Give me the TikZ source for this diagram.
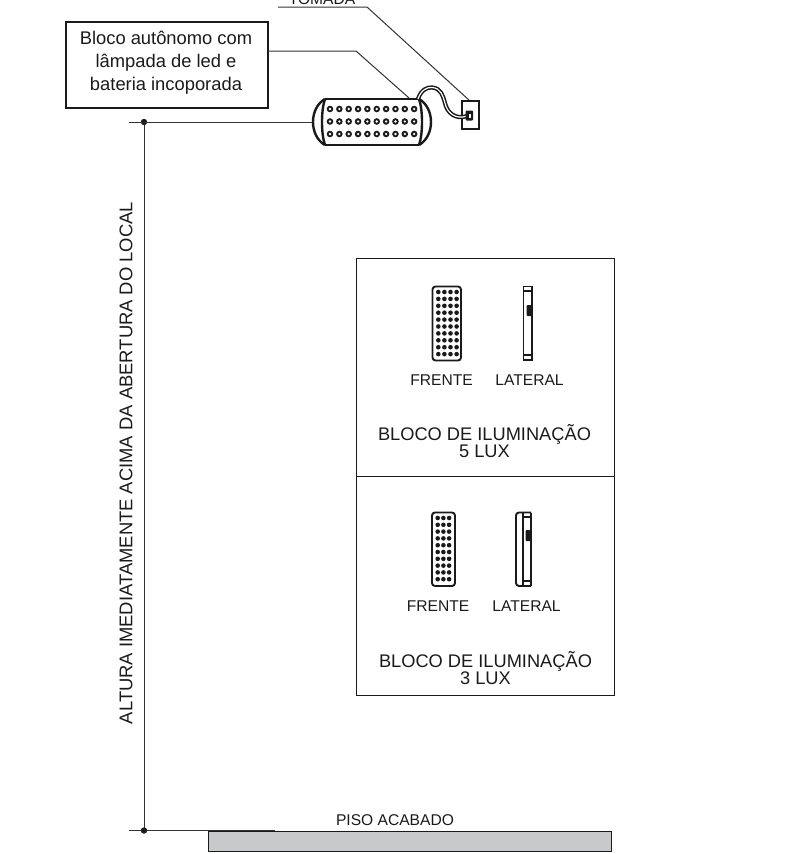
\documentclass[tikz,border=0pt]{standalone}
\usepackage{fontspec}
\setmainfont{Liberation Sans}
\definecolor{ink}{HTML}{1A1A1A}
\definecolor{leader}{HTML}{333333}
\definecolor{slabgray}{HTML}{C8C9CB}
\tikzset{
  thinline/.style={draw=leader,line width=1pt},
  medline/.style={draw=ink,line width=1.9pt},
  heavy/.style={draw=ink,line width=2.4pt},
  lbl/.style={inner sep=0pt,text=ink,font=\fontsize{15.6}{15.6}\selectfont},
  biglbl/.style={inner sep=0pt,text=ink,font=\fontsize{18.25}{17}\selectfont,align=center},
  blocklbl/.style={inner sep=0pt,text=ink,font=\fontsize{18.35}{23}\selectfont,align=center},
  vlbl/.style={inner sep=0pt,text=ink,font=\fontsize{18.4}{18.4}\selectfont,rotate=90},
}
\begin{document}
\begin{tikzpicture}[x=1pt,y=-1pt]
\useasboundingbox (0,0) rectangle (795,854);
% floor
\node[draw=ink,line width=1.3pt,fill=slabgray,minimum width=403pt,minimum height=20pt,inner sep=0pt,anchor=north west] (slab) at (208,831) {};
\node[lbl] (piso) at (395,820) {PISO ACABADO};
% dimension
\coordinate (topL) at (129,122);
\coordinate (topD) at (144,122);
\coordinate (botL) at (129,830.5);
\coordinate (botD) at (144,830.5);
\coordinate (botR) at (275,830.5);
\draw[thinline] (topD) -- (botD);
\draw[thinline] (botL) -- (botR);
\fill[ink] (topD) circle (3.2pt);
\fill[ink] (botD) circle (3.2pt);
\node[vlbl] (vert) at (126,463) {ALTURA IMEDIATAMENTE ACIMA DA ABERTURA DO LOCAL};
% callout
\node[draw=ink,line width=2.4pt,minimum width=202pt,minimum height=86pt,inner sep=0pt,anchor=north west] (box) at (65,21) {};
\node[blocklbl] (boxt) at (166,63) {Bloco autônomo com\\lâmpada de led e\\bateria incoporada};
% tomada
\node[lbl] (tom) at (322,-1) {TOMADA};
\coordinate (tomA) at (278,7);
\coordinate (tomB) at (367,7);
\coordinate (tomC) at (470,101);
\draw[thinline] (tomA) -- (tomB) -- (tomC);
\coordinate (bA) at (268,51);
\coordinate (bB) at (356,51);
\coordinate (bC) at (409,98);
\draw[thinline] (bA) -- (bB) -- (bC);
% lamp
\coordinate (lampL) at (313,122);
\draw[thinline] (topL) -- (lampL);
\draw[heavy] (325,99) -- (419,99);
\draw[heavy] (325,145) -- (419,145);
\draw[heavy] (325,99) .. controls (309,108) and (309,136) .. (325,145);
\draw[heavy] (419,99) .. controls (435,108) and (435,136) .. (419,145);
\draw[heavy] (325,99) .. controls (321,110) and (321,134) .. (325,145);
\draw[heavy] (419,99) .. controls (423,110) and (423,134) .. (419,145);
\foreach \r in {109,121.5,134}{
  \foreach \i in {0,...,9}{
    \fill[ink] ({330+\i*9.35},\r) circle (3.3pt);
    \fill[white] ({330+\i*9.35},\r) circle (1.3pt);
  }
}
% socket
\draw[medline,fill=white] (462,101) rectangle (479,129);
\draw[ink,line width=4.2pt,line join=round] (418,99) .. controls (421,90) and (427,87) .. (432,87.5) .. controls (441,88) and (443,96) .. (445,103) .. controls (447,113) and (456,120) .. (467,116);
\draw[white,line width=1.2pt] (418,99) .. controls (421,90) and (427,87) .. (432,87.5) .. controls (441,88) and (443,96) .. (445,103) .. controls (447,113) and (456,120) .. (467,116);
\fill[ink,rounded corners=1pt] (465.5,110.5) rectangle (473,120.5);
\fill[white] (468.5,114) rectangle (470.5,117.5);
% panels
\node[draw=ink,line width=1.1pt,minimum width=258pt,minimum height=218pt,inner sep=0pt,anchor=north west] (p1) at (356,258) {};
\node[draw=ink,line width=1.1pt,minimum width=258pt,minimum height=219pt,inner sep=0pt,anchor=north west] (p2) at (356,476) {};
% panel 1 front
\draw[medline,rounded corners=3pt] (432.5,286.5) rectangle (461,360.5);
\foreach \r in {0,...,9}{\foreach \c in {0,...,3}{
  \fill[ink] ({438.3+\c*6.1},{292+\r*6.9}) circle (2.3pt);
}}
% panel 1 lateral
\draw[medline] (523.5,286.5) rectangle (532,360);
\draw[medline] (523.5,291) -- (532,291);
\draw[medline] (523.5,355) -- (532,355);
\fill[ink,rounded corners=1pt] (526.5,305) rectangle (531.5,316);
\node[lbl] (f1) at (441.5,380) {FRENTE};
\node[lbl] (l1) at (529.5,380) {LATERAL};
\node[biglbl] (t1) at (484.5,441) {BLOCO DE ILUMINAÇÃO\\5 LUX};
% panel 2 front
\draw[medline,rounded corners=3pt] (432,512.5) rectangle (455,586);
\foreach \r in {0,...,9}{\foreach \c in {0,...,2}{
  \fill[ink] ({437.7+\c*5.7},{518+\r*6.8}) circle (2.3pt);
}}
% panel 2 lateral
\draw[medline,rounded corners=3pt] (531,512.5) -- (516,512.5) -- (516,586) -- (531,586);
\draw[medline] (531,512.5) -- (531,586);
\draw[medline] (523,512.5) -- (523,586);
\draw[medline] (523,517) -- (531,517);
\draw[medline] (523,581) -- (531,581);
\fill[ink,rounded corners=1pt] (525.5,530) rectangle (530.5,541);
\node[lbl] (f2) at (438,606) {FRENTE};
\node[lbl] (l2) at (526.5,606) {LATERAL};
\node[biglbl] (t2) at (485.5,668) {BLOCO DE ILUMINAÇÃO\\3 LUX};
\end{tikzpicture}
\end{document}
